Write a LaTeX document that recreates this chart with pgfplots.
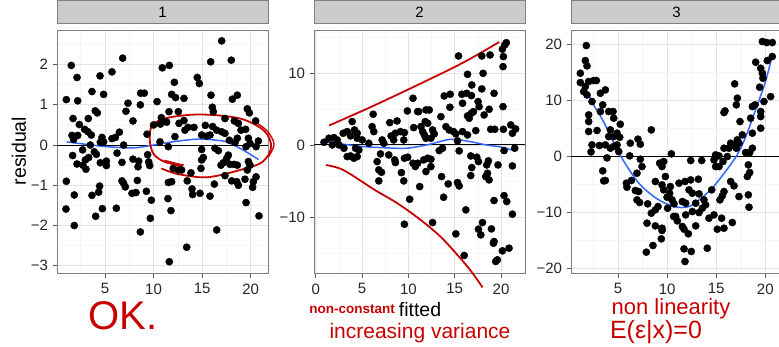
\documentclass[border=0pt]{standalone}
\usepackage{fontspec}
\setmainfont{Liberation Sans}
\usepackage{pgfplots}
\usepackage{pgfplotstable}
\pgfplotsset{compat=1.18}
\definecolor{hand}{RGB}{200,0,0}
\definecolor{smooth}{RGB}{51,102,255}
\pgfplotsset{
  panel/.style={
    scale only axis, width=211pt, height=243pt, anchor=south west,
    axis line style={black!50, line width=0.7pt},
    grid=both,
    major grid style={black!11, line width=0.7pt},
    minor grid style={black!4, line width=0.5pt},
    tick pos=left,
    tick align=outside, major tick length=4.5pt, minor tick length=0pt,
    tick style={black!65, line width=0.7pt},
    ticklabel style={font=\fontsize{15}{17}\selectfont, text=black!85},
    xticklabel style={yshift=-2.5pt},
    yticklabel style={xshift=-1pt},
    title style={at={(0.5,1)}, anchor=south, fill=black!20, draw=black!50, line width=0.7pt,
      minimum width=211pt, minimum height=23pt, inner sep=0pt, font=\fontsize{15}{17}\selectfont},
    clip=false,
  },
  pts/.style={only marks, mark=*, mark size=3.6pt, mark options={fill=black, draw=black}},
  zero/.style={black, line width=1.1pt},
  lo/.style={smooth, color=smooth, line width=1.5pt, tension=0.5},
  ann/.style={hand, line width=1.8pt, smooth, tension=0.55},
}
\pgfplotstableread{
x y
6.82 2.16
1.53 1.98
2.12 1.68
4.49 1.72
5.72 1.82
3.66 1.33
4.86 1.26
1.02 1.13
2.19 1.10
7.37 1.04
8.67 1.29
9.05 1.29
8.64 1.00
10.36 1.08
7.16 0.84
4.00 0.85
4.21 0.80
1.71 0.66
3.28 0.66
7.88 0.60
2.36 0.51
2.91 0.39
3.25 0.33
3.59 0.25
6.48 0.32
1.60 0.24
2.19 0.24
1.77 0.14
4.69 0.19
4.52 0.07
4.86 0.08
5.72 0.16
6.07 0.19
9.33 0.27
10.0 0.50
10.7 0.52
6.92 0.00
3.49 0.00
2.70 -0.12
1.67 -0.26
3.90 -0.17
4.11 -0.23
3.32 -0.31
2.98 -0.37
6.24 -0.20
2.12 -0.47
2.73 -0.50
3.04 -0.60
4.52 -0.44
5.14 -0.40
5.14 -0.51
6.75 -0.43
7.88 -0.35
8.47 -0.40
8.40 -0.54
9.39 -0.24
9.50 -0.42
9.60 -0.51
1.02 -0.90
6.75 -0.89
6.92 -0.95
7.09 -1.04
8.33 -0.88
4.45 -1.02
4.35 -1.17
3.66 -1.25
1.84 -1.24
7.78 -1.20
8.19 -1.18
9.26 -1.15
9.77 -1.37
0.98 -1.59
4.73 -1.58
6.17 -1.57
4.04 -1.77
9.67 -1.82
1.84 -2.00
8.64 -2.16
17.01 2.59
10.90 1.92
11.62 1.98
15.88 2.07
18.00 2.11
12.14 1.56
14.50 1.68
14.71 1.53
11.86 1.26
12.27 1.18
13.13 1.16
15.91 1.24
18.62 1.24
18.11 1.14
19.65 0.90
19.86 0.80
11.59 0.83
12.55 0.83
16.05 0.94
16.15 0.83
10.80 0.68
11.35 0.57
13.13 0.61
13.54 0.44
14.16 0.44
12.62 0.54
13.23 0.37
15.33 0.49
16.08 0.46
17.35 0.66
18.31 0.60
18.73 0.54
19.00 0.37
19.48 0.39
20.51 0.60
12.20 0.21
14.95 0.25
15.47 0.22
15.81 0.25
16.50 0.37
17.01 0.33
17.35 0.29
17.80 0.12
18.38 0.06
18.62 0.17
19.76 0.17
19.93 0.04
19.52 -0.04
20.79 0.10
20.55 -0.04
11.52 -0.04
10.66 0.08
14.95 -0.11
16.32 -0.08
16.67 -0.14
15.12 -0.31
14.95 -0.37
17.70 -0.25
17.53 -0.33
17.18 -0.44
16.94 -0.50
17.87 -0.48
18.28 -0.48
18.62 -0.50
19.76 -0.41
19.93 -0.50
19.65 -0.62
12.03 -0.58
12.89 -0.62
12.55 -0.62
14.88 -0.58
13.85 -0.69
17.35 -0.76
11.86 -0.91
11.52 -0.93
13.47 -0.89
16.26 -0.97
18.04 -0.89
18.56 -0.91
18.73 -1.00
19.41 -0.85
20.55 -0.79
20.27 -0.91
20.20 -1.05
13.96 -1.09
14.02 -1.23
14.78 -1.20
15.81 -1.27
11.48 -1.33
11.79 -1.63
19.52 -1.43
20.85 -1.76
16.50 -2.11
13.41 -2.54
11.62 -2.90
}\pone
\pgfplotstableread{
x y
0.90 0.37
1.43 0.93
1.97 1.02
2.33 0.69
1.79 0.00
2.51 0.00
3.05 -0.46
3.40 -1.62
3.76 -1.53
4.12 -1.85
4.48 -1.62
4.66 -0.70
4.30 -0.46
2.97 1.62
3.40 1.85
3.76 1.25
4.19 2.08
4.48 1.62
3.94 3.24
4.48 0.93
5.02 0.69
5.73 0.23
6.20 4.26
6.09 2.54
6.27 1.85
7.17 0.69
7.35 0.23
6.99 -1.25
7.88 -1.39
6.63 -2.32
6.81 -3.47
7.10 -3.80
6.81 -5.00
7.99 3.10
8.78 3.33
8.14 1.25
8.60 1.62
9.14 1.85
9.57 1.71
8.42 0.69
9.50 0.69
8.53 -2.08
8.60 -2.45
9.25 -3.85
9.50 -5.00
9.57 -1.85
9.93 -1.71
9.89 4.72
10.50 6.48
10.57 2.41
10.14 -7.55
9.57 -11.02
10.50 -2.55
10.75 -3.01
11.22 -5.79
11.11 4.63
11.36 2.55
20.57 14.21
20.39 13.89
20.14 13.30
20.25 12.27
20.21 10.88
15.41 12.36
17.92 12.36
18.81 12.50
16.38 9.81
18.06 9.95
16.84 8.33
17.92 7.78
19.24 7.17
13.87 6.80
14.51 7.04
15.77 7.04
16.30 7.17
16.80 6.85
14.48 5.23
15.84 5.79
17.52 6.02
17.63 5.32
18.71 4.95
20.21 5.32
11.90 4.86
12.25 4.86
11.00 4.63
16.38 4.03
16.80 4.40
17.02 4.63
16.56 3.70
18.17 4.16
13.51 3.93
11.82 3.24
12.08 3.01
14.05 2.54
14.40 2.08
14.87 1.85
15.12 1.53
11.54 1.85
11.72 1.39
12.61 2.08
12.79 1.53
12.43 0.93
11.90 0.93
15.84 1.85
16.38 1.39
17.27 1.99
18.88 2.17
19.32 2.17
20.25 2.17
21.04 2.78
21.57 2.22
21.22 1.62
15.30 0.56
21.47 -0.46
13.33 -0.79
13.69 -0.46
15.48 -0.83
20.32 -0.79
12.08 -1.85
12.43 -1.99
11.65 -2.08
11.00 -2.55
12.43 -3.01
11.90 -3.70
16.73 -1.53
17.38 -1.71
17.56 -2.32
16.84 -3.15
16.73 -4.26
18.63 -2.22
18.45 -2.78
19.67 -2.78
21.22 -2.92
18.53 -3.94
18.35 -4.40
18.71 -4.86
13.58 -4.40
14.30 -5.42
15.30 -5.23
15.48 -5.70
13.80 -7.27
20.32 -7.04
20.61 -7.87
19.24 -7.73
16.20 -9.03
21.22 -9.63
12.61 -10.79
17.99 -10.79
17.56 -11.71
17.81 -12.50
18.96 -11.67
15.12 -12.36
19.24 -13.43
19.17 -13.66
20.14 -14.72
20.86 -14.35
16.02 -15.37
19.60 -15.97
19.42 -16.20
}\ptwo
\pgfplotstableread{
x y
1.77 19.82
1.67 17.14
1.84 16.19
1.16 14.88
1.16 13.22
1.67 12.50
1.84 11.00
1.50 11.60
2.01 13.40
2.52 13.57
2.79 13.57
3.20 11.30
3.71 11.90
2.35 9.82
3.44 9.23
3.20 8.04
4.05 8.04
4.49 8.04
2.01 7.44
2.01 6.25
4.56 6.85
5.23 5.77
2.01 4.47
2.86 4.65
4.22 4.76
4.05 3.57
4.56 3.57
4.90 4.17
5.17 3.45
2.35 2.08
3.10 1.96
3.71 2.08
4.22 1.49
4.56 1.79
4.90 2.08
2.25 0.83
5.07 0.89
3.88 -0.24
3.44 -2.56
3.54 -4.34
3.71 -4.28
8.39 4.76
6.25 2.38
7.03 3.10
7.27 2.20
6.19 0.12
7.27 -0.48
7.44 -1.79
6.93 -2.98
6.36 -4.28
5.85 -4.76
5.91 -5.48
6.76 -6.07
7.10 -6.25
6.93 -7.74
7.20 -8.21
8.02 -8.45
9.24 -1.19
9.65 -0.89
9.48 -1.79
9.82 -3.57
8.80 -4.46
9.48 -5.06
9.65 -5.95
10.33 -5.36
10.26 -6.55
9.99 -7.26
10.50 -7.74
10.05 -9.23
10.43 0.48
8.39 -10.12
8.80 -9.52
9.07 -8.93
7.95 -11.90
8.80 -12.38
9.48 -12.80
9.48 -13.20
9.41 -14.70
8.56 -15.89
7.88 -17.08
10.67 -10.71
19.70 20.54
20.14 20.36
20.71 20.36
20.71 17.86
20.20 17.14
19.02 16.85
19.53 15.77
19.70 14.88
19.76 13.99
19.42 12.38
16.88 12.98
17.15 10.42
17.05 9.23
20.54 10.71
15.89 8.15
15.79 7.86
18.68 8.93
18.95 9.23
19.86 9.82
19.53 8.04
18.51 6.85
19.53 7.14
17.42 6.25
19.53 5.06
18.68 4.17
17.66 3.87
17.15 2.98
16.81 2.08
16.47 2.38
17.32 2.38
17.05 1.49
16.30 1.49
15.79 1.49
18.68 1.49
18.41 0.71
17.99 0.71
14.94 0.30
15.28 0.12
14.77 -0.60
15.69 -0.89
15.28 -1.79
14.94 -1.79
16.13 0.00
18.27 -1.49
18.41 -2.86
18.17 -3.57
13.52 -0.71
12.40 -0.71
16.47 -4.46
16.81 -5.24
17.32 -7.14
18.27 -6.85
18.34 -9.05
15.79 -6.25
15.62 -7.02
15.38 -7.74
14.54 -5.95
11.21 -4.76
11.82 -4.46
12.40 -4.17
13.18 -4.05
12.23 -5.95
12.57 -6.55
13.25 -6.67
13.75 -7.74
13.92 -8.63
13.58 -9.23
12.91 -8.33
11.89 -8.33
11.55 -8.04
10.70 -8.45
12.57 -9.82
13.25 -10.00
11.89 -10.42
10.87 -10.71
11.04 -11.49
14.26 -11.01
14.77 -10.42
15.55 -11.01
16.64 -11.78
15.11 -12.98
15.79 -12.80
11.55 -12.50
11.72 -12.98
12.91 -12.38
12.16 -13.80
11.72 -16.49
12.46 -16.96
11.82 -18.75
14.09 -16.37
}\pthree
\begin{document}
\begin{tikzpicture}
\useasboundingbox (0pt,0pt) rectangle (779pt,346pt);
% ---------- panel 1
\begin{axis}[panel, at={(57pt,73pt)}, title={1},
  xmin=0.06, xmax=21.78, ymin=-3.18, ymax=2.86,
  xtick={5,10,15,20}, xticklabels={5,10,15,20}, minor xtick={2.5,7.5,12.5,17.5},
  ytick={-3,-2,-1,0,1,2}, yticklabels={−3,−2,−1,0,1,2},
  minor ytick={-2.5,-1.5,-0.5,0.5,1.5,2.5}]
\addplot[zero] coordinates {(0.06,0) (21.78,0)};
\addplot[pts] table[x=x,y=y] {\pone};
\addplot[lo] coordinates {(1.05,0.08) (3,0.02) (5.2,-0.04) (7.9,-0.07) (10,0) (12.5,0.1) (14.8,0.15) (16.5,0.12) (17.5,0.08) (19.2,-0.12) (20.8,-0.36)};
\addplot[ann] coordinates {(13.1,-0.5) (11.2,-0.42) (10.0,-0.22) (9.6,0.15) (9.9,0.5) (11.5,0.68) (14.8,0.76) (18.9,0.66) (21.4,0.35) (22.1,-0.05) (21.2,-0.42) (18.9,-0.62) (15.5,-0.8) (12.5,-0.72) (10.8,-0.58)};
\addplot[ann, line width=1.4pt] coordinates {(20.4,0.58) (21.7,0.35) (22.4,0.02) (21.8,-0.3)};
\addplot[hand, line width=3pt] coordinates {(11.1,-0.4) (13.0,-0.52)};
\end{axis}
% ---------- panel 2
\begin{axis}[panel, at={(314pt,73pt)}, title={2},
  xmin=-0.18, xmax=22.58, ymin=-17.8, ymax=15.97,
  xtick={0,5,10,15,20}, xticklabels={0,5,10,15,20}, minor xtick={2.5,7.5,12.5,17.5,22.5},
  ytick={-10,0,10}, yticklabels={−10,0,10},
  minor ytick={-15,-5,5,15}]
\addplot[zero] coordinates {(-0.18,0) (22.58,0)};
\addplot[pts] table[x=x,y=y] {\ptwo};
\addplot[lo] coordinates {(0.82,0.46) (3,0.1) (5.1,-0.23) (7.5,-0.4) (9.8,-0.46) (12,0) (14.1,0.69) (15.1,0.78) (16.5,0.5) (18.4,0) (20,-0.3) (21.4,-0.79)};
\addplot[ann] coordinates {(1.45,2.7) (6,5.3) (11.6,8.7) (16,11.5) (19.8,14.3)};
\addplot[ann] coordinates {(1.1,-2.8) (3,-3.5) (6.3,-6.2) (8.8,-8.1) (11.3,-10.4) (13.5,-12.8) (15.5,-15.6) (16.8,-17.6) (18,-19.8)};
\end{axis}
% ---------- panel 3
\begin{axis}[panel, at={(571pt,73pt)}, title={3},
  xmin=0.21, xmax=21.7, ymin=-20.8, ymax=22.6,
  xtick={5,10,15,20}, xticklabels={5,10,15,20}, minor xtick={2.5,7.5,12.5,17.5},
  ytick={-20,-10,0,10,20}, yticklabels={−20,−10,0,10,20},
  minor ytick={-15,-5,5,15}]
\addplot[zero] coordinates {(0.21,0) (21.7,0)};
\addplot[pts] table[x=x,y=y] {\pthree};
\addplot[lo] coordinates {(1.3,13.7) (2.5,9.3) (3.5,6.3) (5.2,0.3) (7,-4.5) (8.6,-7.1) (10,-8.5) (11.3,-9.1) (12.5,-8.7) (14.4,-6) (15.8,-3) (17.1,0.2) (18,3.5) (19,8.3) (20,13.3) (20.7,18.0)};
\end{axis}
% ---------- labels and notes
\node[rotate=90, font=\fontsize{19.5}{22}\selectfont] at (19pt,195pt) {residual};
\node[font=\fontsize{19.5}{22}\selectfont] at (420pt,36pt) {fitted};
\node[text=hand, inner sep=0pt, font=\fontsize{40}{44}\selectfont] at (123pt,30pt) {OK.};
\node[text=hand, inner sep=0pt, font=\fontsize{13.5}{15}\selectfont\bfseries] at (352pt,37pt) {non-constant};
\node[text=hand, inner sep=0pt, font=\fontsize{21}{24}\selectfont] at (420pt,13pt) {increasing variance};
\node[text=hand, inner sep=0pt, font=\fontsize{22}{26}\selectfont] at (671pt,37pt) {non linearity};
\node[text=hand, inner sep=0pt, font=\fontsize{25}{28}\selectfont] at (656pt,14pt) {E(ε|x)=0};
\end{tikzpicture}
\end{document}
